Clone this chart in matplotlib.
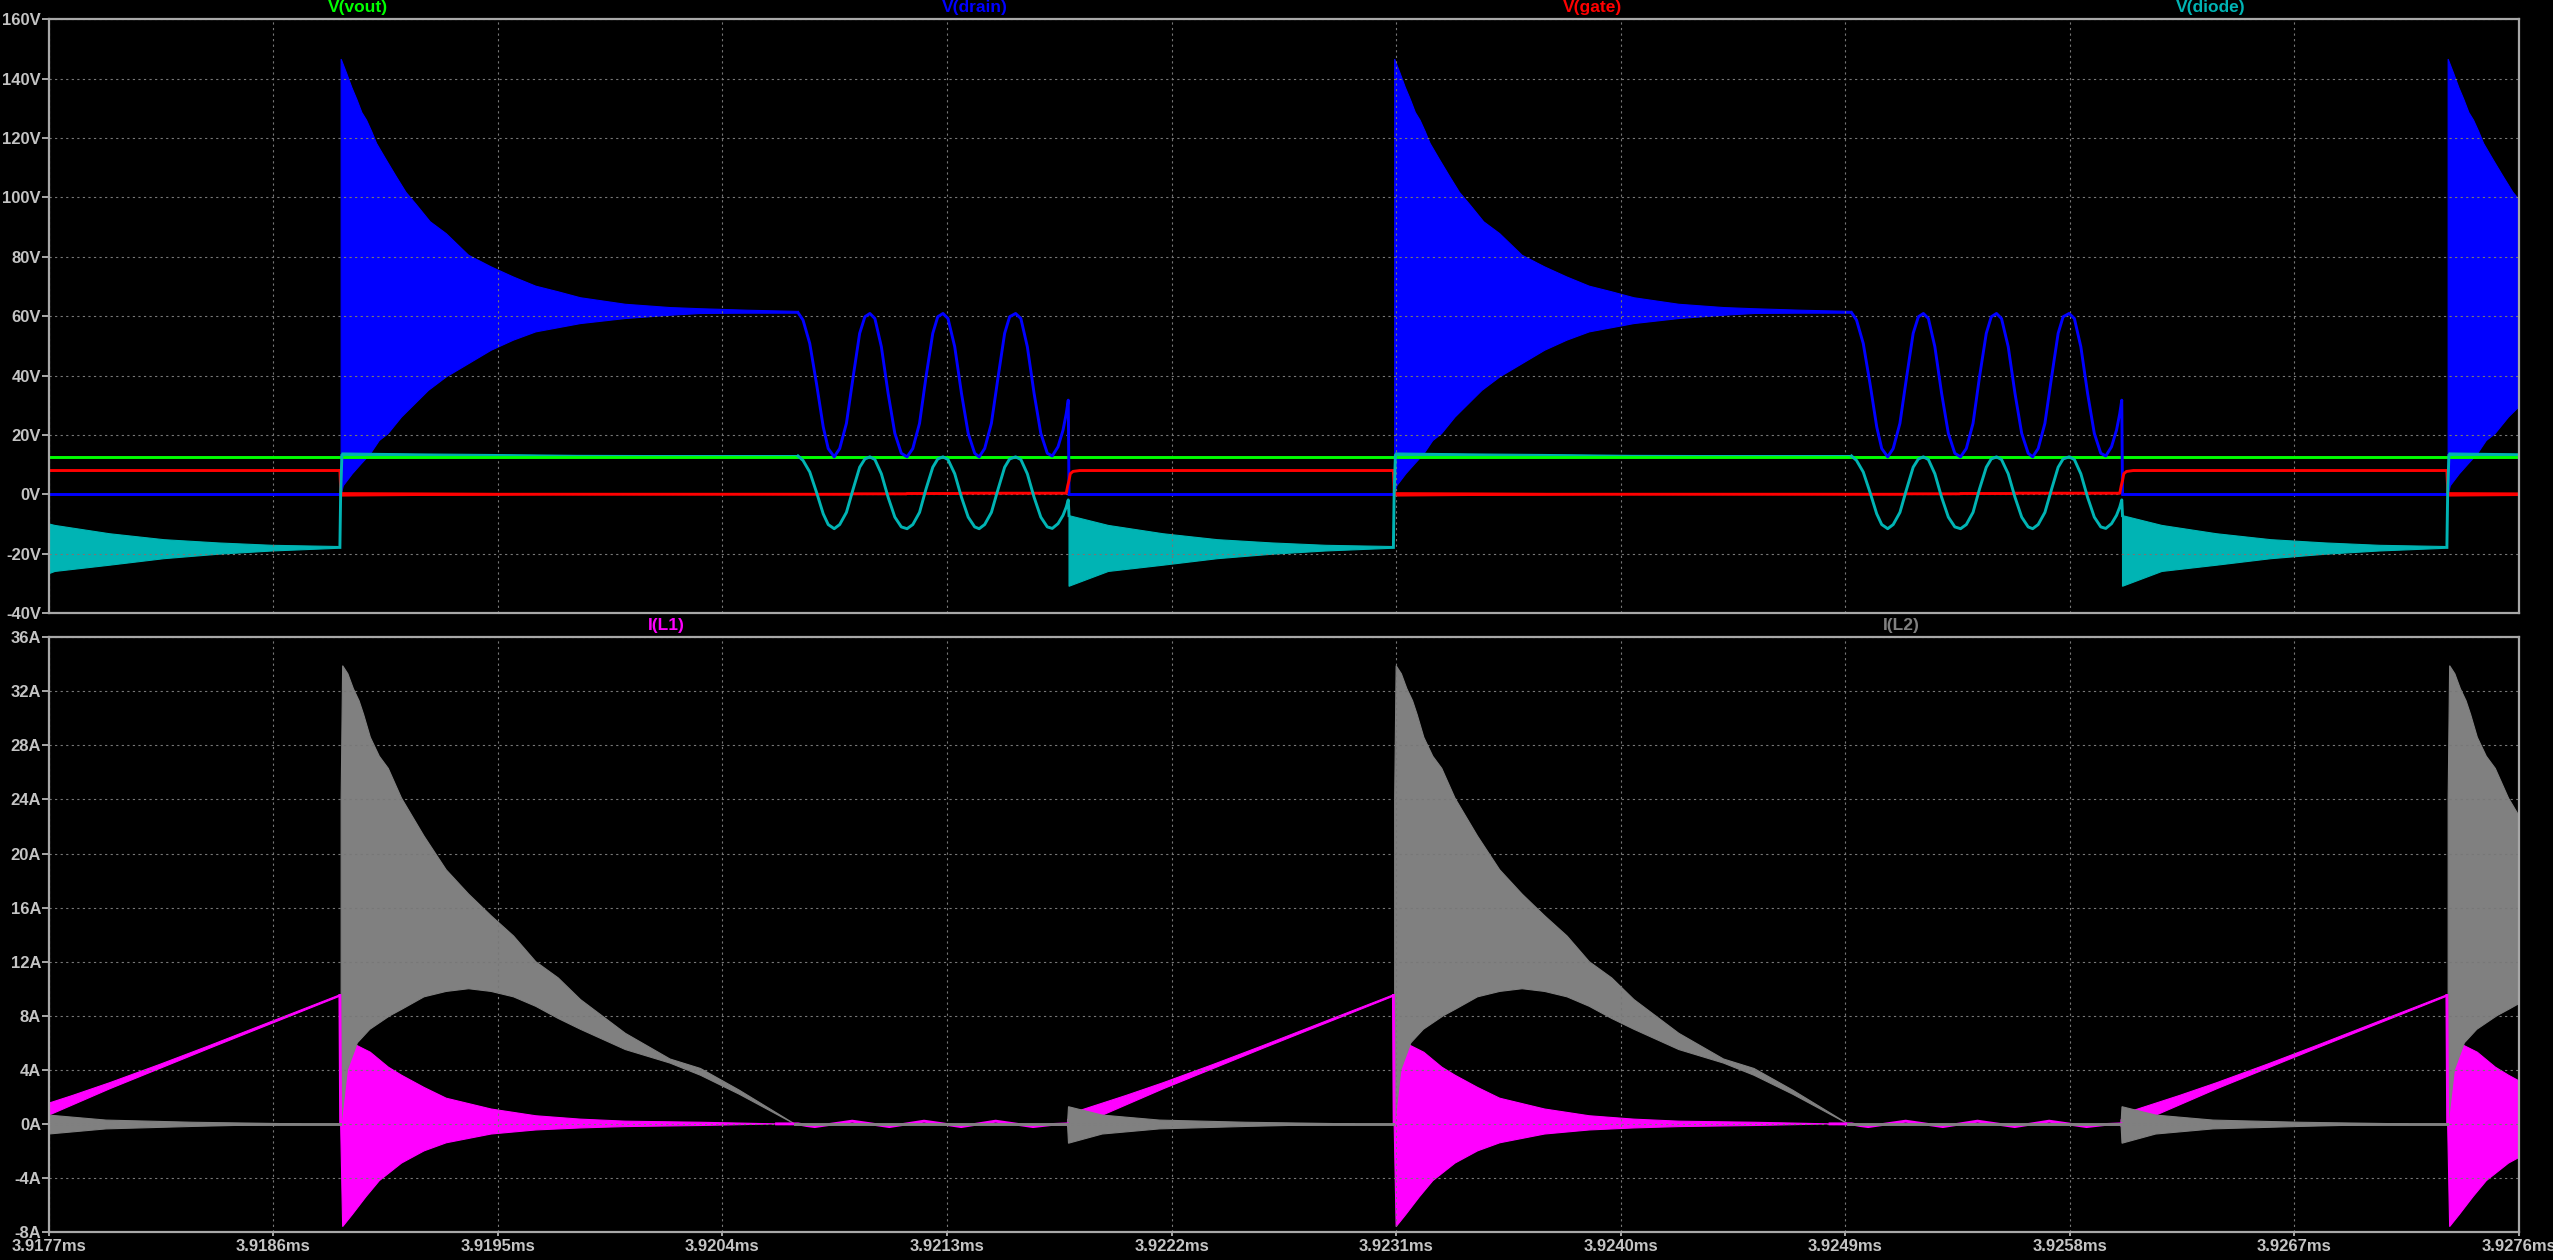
import numpy as np
import matplotlib
matplotlib.use('Agg')
import matplotlib.pyplot as plt
from matplotlib.ticker import MultipleLocator, FuncFormatter

plt.rcParams['font.family'] = ['Liberation Sans', 'DejaVu Sans']
plt.rcParams['font.weight'] = 'bold'

T0_MS = 3.9177          # left edge of the time axis (ms)
SPAN_US = 9.9           # visible window (us)
# switch-on instants in us after T0 (first one belongs to the cycle before the window)
t_on = [-3.055, 1.167, 5.389, 9.611]

# all waveforms below: dt = us after a switch-on instant

# V(vout)
vout_t = [0.0, 9.9]
vout_v = [12.4, 12.4]

# V(drain) ringing envelope after switch-on
drain_hi_dt = [0.005, 0.027, 0.048, 0.068, 0.088, 0.107, 0.127, 0.147, 0.186, 0.226, 0.265, 0.305, 0.362,
               0.426, 0.516, 0.606, 0.695, 0.785, 0.875, 0.964, 1.144, 1.323, 1.445, 1.633, 1.836]
drain_hi = [146.6, 141.8, 137.0, 133.0, 128.6, 126.0, 122.3, 118.2, 112.6, 107.0, 101.7, 97.7, 91.8,
            87.8, 80.5, 76.6, 73.2, 70.1, 68.2, 66.2, 64.0, 62.9, 62.5, 62.0, 61.6]
drain_lo_dt = [0.005, 0.014, 0.050, 0.086, 0.122, 0.158, 0.193, 0.247, 0.301, 0.355, 0.426, 0.516, 0.606,
               0.695, 0.785, 0.964, 1.144, 1.323, 1.445, 1.633, 1.836]
drain_lo = [0.0, 2.9, 6.9, 10.3, 13.6, 18.1, 20.4, 26.0, 30.5, 35.0, 39.5, 44.0, 48.5,
            51.9, 54.7, 57.5, 59.2, 60.3, 60.9, 61.0, 61.0]

# V(drain) / V(diode) slow resonance after the core has reset
slow_dt = [1.836, 1.856, 1.883, 1.910, 1.937, 1.957, 1.981,
           2.003, 2.030, 2.057, 2.083, 2.104, 2.124, 2.144, 2.170, 2.197, 2.224, 2.250, 2.273,
           2.296, 2.323, 2.349, 2.376, 2.396, 2.417, 2.437, 2.464, 2.491, 2.518, 2.544, 2.562,
           2.584, 2.611, 2.638, 2.664, 2.684, 2.708, 2.729, 2.755, 2.782, 2.809, 2.835,
           2.855, 2.878, 2.898, 2.911, 2.919, 2.922]
drain_slow = [61.2, 58.7, 50.8, 37.3, 22.7, 15.4, 12.6,
              15.4, 23.9, 39.6, 54.2, 59.8, 60.9, 59.2, 49.7, 34.0, 20.5, 13.8, 12.6,
              15.4, 23.9, 39.6, 54.2, 59.8, 60.9, 59.2, 49.7, 34.0, 20.5, 13.8, 12.6,
              15.4, 23.9, 39.6, 54.2, 59.8, 60.9, 59.2, 49.7, 34.0, 20.5, 13.8,
              12.9, 16.0, 21.6, 27.2, 31.7, 0.0]
diode_slow = [12.9, 11.4, 7.5, 0.7, -6.6, -10.2, -11.6,
              -10.2, -6.1, 1.8, 9.1, 11.9, 12.6, 11.7, 6.9, -1.0, -7.7, -11.0, -11.6,
              -10.2, -6.1, 1.8, 9.1, 11.9, 12.6, 11.7, 6.9, -1.0, -7.7, -11.0, -11.6,
              -10.2, -6.1, 1.8, 9.1, 11.9, 12.6, 11.7, 6.9, -1.0, -7.7, -11.0,
              -11.5, -9.9, -7.1, -4.3, -1.9, -7.2]
drain_off_dt = [2.922, 4.222]
drain_off = [0.0, 0.0]

# V(diode) during on-time and after switch-off
diode_start_dt = [0.0, 0.003, 0.008]
diode_start = [-17.9, 0.0, 13.0]
diode_on_dt = [0.008, 0.3, 0.6, 0.95, 1.836]
diode_on_hi = [13.9, 13.6, 13.4, 13.1, 12.9]
diode_on_lo = [12.9, 12.9, 12.9, 12.9, 12.9]
diode_off_dt = [2.922, 3.080, 3.299, 3.517, 3.735, 3.952, 4.215, 4.222]
diode_off_hi = [-7.2, -10.5, -13.3, -15.3, -16.4, -17.2, -17.6, -17.9]
diode_off_lo = [-31.0, -26.0, -23.9, -21.7, -20.2, -19.1, -18.2, -17.9]

# V(gate)
gate_dt = [0.0, 0.004, 1.0, 2.050, 2.052, 2.270, 2.272, 2.490, 2.492, 2.911, 2.917, 2.922, 2.927, 2.938, 2.965, 4.222]
gate_v = [8.0, 0.0, 0.0, 0.0, 0.15, 0.15, 0.25, 0.25, 0.35, 0.35, 2.9, 4.6, 6.9, 7.7, 8.0, 8.0]
gate_rip_dt = [0.004, 0.3, 0.6, 0.9]
gate_rip_hi = [0.5, 0.4, 0.25, 0.0]
gate_rip_lo = [-0.6, -0.4, -0.25, 0.0]

# I(L1)
il1_drop_dt = [0.0, 0.003]
il1_drop = [9.5, 0.0]
il1_hi_dt = [0.003, 0.050, 0.068, 0.122, 0.194, 0.247, 0.337, 0.426, 0.606, 0.785, 0.964, 1.144, 1.445, 1.600, 1.750]
il1_hi = [2.0, 5.9, 5.8, 5.3, 4.2, 3.6, 2.7, 1.9, 1.1, 0.6, 0.35, 0.2, 0.12, 0.06, 0.0]
il1_lo_dt = [0.003, 0.011, 0.050, 0.104, 0.158, 0.247, 0.337, 0.426, 0.606, 0.785, 0.964, 1.144, 1.445, 1.600, 1.750]
il1_lo = [0.0, -7.6, -6.7, -5.4, -4.2, -2.9, -2.0, -1.4, -0.75, -0.45, -0.3, -0.2, -0.12, -0.06, 0.0]
il1_slow_dt = [1.750, 1.836, 1.870, 1.903, 1.978, 2.053, 2.128, 2.202, 2.272, 2.341, 2.416, 2.490,
               2.559, 2.628, 2.703, 2.778, 2.850, 2.916]
il1_slow = [0.0, 0.0, -0.12, -0.2, 0.0, 0.2, 0.0, -0.2, 0.0, 0.2, 0.0, -0.2, 0.0, 0.2, 0.0, -0.2, -0.05, 0.0]
il1_ramp_dt = [2.916, 2.950, 3.050, 3.150, 3.300, 3.500, 3.700, 4.222]
il1_ramp_hi = [0.3, 0.9, 1.5, 2.1, 3.05, 4.4, 5.8, 9.55]
il1_ramp_lo = [-0.2, 0.0, 0.6, 1.4, 2.6, 4.1, 5.6, 9.45]

# I(L2)
il2_hi_dt = [0.005, 0.011, 0.032, 0.054, 0.077, 0.095, 0.122, 0.158, 0.194, 0.247, 0.337, 0.426, 0.516,
             0.606, 0.696, 0.785, 0.875, 0.964, 1.144, 1.323, 1.445, 1.600, 1.822]
il2_hi = [24.0, 33.9, 33.3, 32.2, 31.3, 30.3, 28.6, 27.2, 26.3, 24.1, 21.3, 18.8, 17.0,
          15.4, 13.9, 12.0, 10.8, 9.2, 6.7, 4.8, 4.1, 2.5, 0.0]
il2_lo_dt = [0.005, 0.030, 0.070, 0.120, 0.200, 0.250, 0.337, 0.426, 0.516, 0.606, 0.696, 0.785, 0.875,
             0.964, 1.144, 1.323, 1.445, 1.600, 1.822]
il2_lo = [0.0, 4.0, 6.0, 7.0, 8.0, 8.5, 9.4, 9.8, 10.0, 9.8, 9.4, 8.7, 7.8,
          7.0, 5.5, 4.5, 3.6, 2.2, 0.0]
il2_flat_dt = [1.822, 4.222]
il2_flat = [0.0, 0.0]
il2_wedge_dt = [2.916, 2.920, 3.055, 3.285, 3.630, 4.068]
il2_wedge_hi = [0.0, 1.27, 0.65, 0.28, 0.12, 0.0]
il2_wedge_lo = [0.0, -1.43, -0.75, -0.37, -0.19, 0.0]

C_VOUT = '#00ff00'
C_DRAIN = '#0000ff'
C_GATE = '#ff0000'
C_DIODE = '#00b4b4'
C_L1 = '#ff00ff'
C_L2 = '#808080'
FRAME = '#a8a8a8'
TXT = '#c4c4c4'
LW = 2.1


def band(ax, t0, dt_hi, hi, dt_lo, lo, color):
    x = np.concatenate([np.asarray(dt_hi), np.asarray(dt_lo)[::-1]]) + t0
    y = np.concatenate([np.asarray(hi), np.asarray(lo)[::-1]])
    ax.fill(x, y, color=color, lw=0.8, ec=color)


def line(ax, t0, dt, v, color):
    ax.plot(np.asarray(dt) + t0, v, color=color, lw=LW, solid_joinstyle='round')


fig = plt.figure(figsize=(25.53, 12.6), dpi=100, facecolor='black')
ax1 = fig.add_axes([0.019075, 0.51349, 0.96761, 0.47119])
ax2 = fig.add_axes([0.019075, 0.02222, 0.96761, 0.47198])

# ---- top pane: voltages
ax1.plot(vout_t, vout_v, color=C_VOUT, lw=LW)
for t in t_on:
    band(ax1, t, drain_hi_dt, drain_hi, drain_lo_dt, drain_lo, C_DRAIN)
    line(ax1, t, slow_dt, drain_slow, C_DRAIN)
    line(ax1, t, drain_off_dt, drain_off, C_DRAIN)
for t in t_on:
    line(ax1, t, gate_dt, gate_v, C_GATE)
    band(ax1, t, gate_rip_dt, gate_rip_hi, gate_rip_dt, gate_rip_lo, C_GATE)
for t in t_on:
    line(ax1, t, diode_start_dt, diode_start, C_DIODE)
    band(ax1, t, diode_on_dt, diode_on_hi, diode_on_dt, diode_on_lo, C_DIODE)
    line(ax1, t, slow_dt, diode_slow, C_DIODE)
    band(ax1, t, diode_off_dt, diode_off_hi, diode_off_dt, diode_off_lo, C_DIODE)

# ---- bottom pane: currents
for t in t_on:
    line(ax2, t, il1_drop_dt, il1_drop, C_L1)
    band(ax2, t, il1_hi_dt, il1_hi, il1_lo_dt, il1_lo, C_L1)
    line(ax2, t, il1_slow_dt, il1_slow, C_L1)
    band(ax2, t, il1_ramp_dt, il1_ramp_hi, il1_ramp_dt, il1_ramp_lo, C_L1)
for t in t_on:
    band(ax2, t, il2_hi_dt, il2_hi, il2_lo_dt, il2_lo, C_L2)
    line(ax2, t, il2_flat_dt, il2_flat, C_L2)
    band(ax2, t, il2_wedge_dt, il2_wedge_hi, il2_wedge_dt, il2_wedge_lo, C_L2)

ax1.set_ylim(-40, 160)
ax2.set_ylim(-8, 36)
ax1.yaxis.set_major_locator(MultipleLocator(20))
ax2.yaxis.set_major_locator(MultipleLocator(4))
ax1.yaxis.set_major_formatter(FuncFormatter(lambda v, p: f'{v:g}V'))
ax2.yaxis.set_major_formatter(FuncFormatter(lambda v, p: f'{v:g}A'))

for ax in (ax1, ax2):
    ax.set_facecolor('black')
    ax.set_xlim(0, SPAN_US)
    ax.xaxis.set_major_locator(MultipleLocator(0.9))
    ax.grid(True, color='#777777', lw=0.8, linestyle=(0, (2, 3)))
    for s in ax.spines.values():
        s.set_color(FRAME)
        s.set_linewidth(1.6)
    ax.tick_params(axis='y', colors=FRAME, labelcolor=TXT, length=5, width=1.4, pad=0.5, labelsize=12)
    ax.tick_params(axis='x', colors=FRAME, labelcolor=TXT, length=3, width=1.4, pad=2, labelsize=12)

ax1.tick_params(axis='x', labelbottom=False, length=0)
ax2.xaxis.set_major_formatter(FuncFormatter(lambda x, p: f'{T0_MS + x / 1000:.4f}ms'))

# trace names above each pane
trace_names_top = ['V(vout)', 'V(drain)', 'V(gate)', 'V(diode)']
trace_colors_top = [C_VOUT, C_DRAIN, C_GATE, C_DIODE]
for i, (name, c) in enumerate(zip(trace_names_top, trace_colors_top)):
    ax1.annotate(name, xy=((2 * i + 1) / 8, 1), xycoords='axes fraction', xytext=(0, 8.5),
                 textcoords='offset points', ha='center', va='center', color=c, fontsize=12.5)
trace_names_bot = ['I(L1)', 'I(L2)']
trace_colors_bot = [C_L1, C_L2]
for i, (name, c) in enumerate(zip(trace_names_bot, trace_colors_bot)):
    ax2.annotate(name, xy=((2 * i + 1) / 4, 1), xycoords='axes fraction', xytext=(0, 8.5),
                 textcoords='offset points', ha='center', va='center', color=c, fontsize=12.5)

fig.savefig('out.png', dpi=100, facecolor='black')
